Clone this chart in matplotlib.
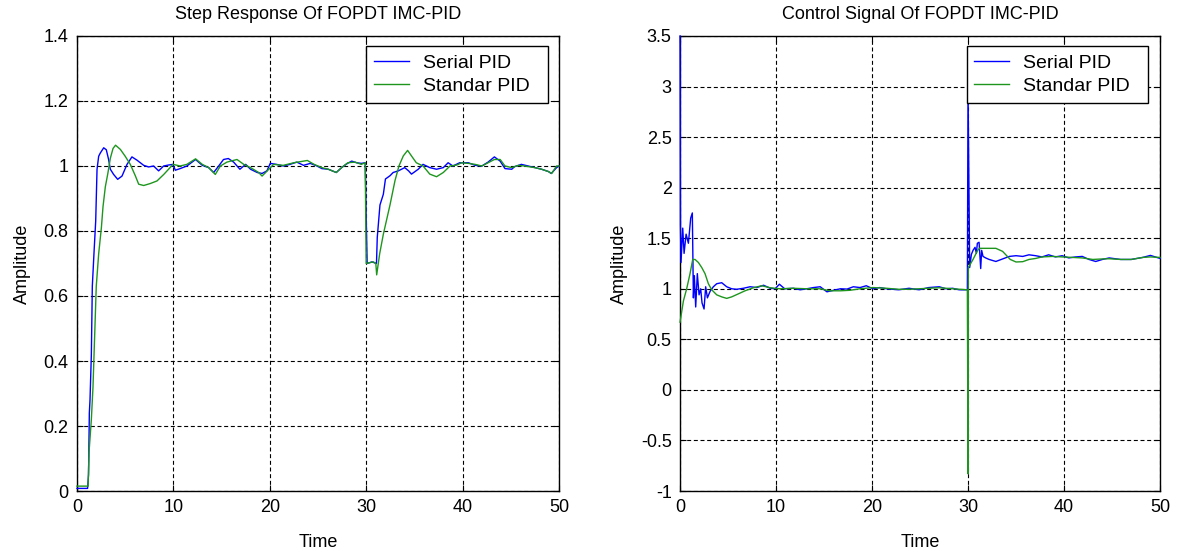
import numpy as np
import matplotlib.pyplot as plt
from matplotlib.ticker import FuncFormatter, MultipleLocator

plt.rcParams['font.family'] = ['Liberation Sans', 'DejaVu Sans']
plt.rcParams['font.size'] = 13

BLUE = '#0000ff'
GREEN = '#1e961e'

# Step response, serial PID
t_y_serial = [0.0, 1.1, 1.2, 1.28, 1.35, 1.49, 1.59, 1.76, 1.94, 2.08, 2.25, 2.42, 2.77,
              3.04, 3.28, 3.46, 3.8, 4.22, 4.67, 5.19, 5.7, 6.22, 6.92, 7.43, 7.95, 8.47,
              8.99, 9.5, 9.96, 10.2, 10.7, 11.4, 12.3, 13.0, 13.66, 14.18, 14.7, 15.2,
              15.7, 16.25, 16.9, 17.5, 18.0, 18.7, 19.2, 19.7, 20.05, 20.7, 21.4, 22.1,
              22.8, 23.5, 24.2, 24.9, 25.4, 26.07, 26.9, 27.45, 28.0, 28.5, 29.0, 29.5,
              29.9, 30.0, 30.1, 30.6, 31.07, 31.15, 31.43, 31.78, 32.0, 32.47, 32.8,
              33.33, 34.0, 34.4, 34.7, 35.4, 35.9, 36.6, 37.3, 38.0, 38.5, 39.0, 39.7,
              40.6, 41.3, 42.0, 42.65, 43.3, 43.9, 44.4, 45.1, 45.4, 46.1, 46.8, 47.5,
              48.2, 48.9, 49.2, 49.75, 50.0]
y_serial = [0.008, 0.008, 0.05, 0.24, 0.28, 0.42, 0.63, 0.73, 0.83, 0.99, 1.03, 1.04, 1.056,
            1.05, 1.02, 0.99, 0.974, 0.959, 0.969, 1.005, 1.028, 1.018, 1.002, 0.997, 1.0,
            0.985, 1.0, 1.003, 1.005, 0.987, 0.992, 1.0, 1.02, 1.002, 0.995, 0.98, 1.0,
            1.02, 1.023, 1.012, 0.99, 1.005, 0.99, 0.98, 0.977, 0.985, 1.008, 1.005, 1.0,
            1.005, 1.012, 1.002, 1.008, 1.0, 0.992, 0.99, 0.98, 0.995, 1.007, 1.015, 1.01,
            1.008, 1.01, 0.85, 0.70, 0.705, 0.70, 0.78, 0.88, 0.913, 0.96, 0.97, 0.98,
            0.985, 0.995, 0.985, 0.975, 0.99, 1.005, 0.995, 0.99, 0.995, 1.01, 1.0, 1.01,
            1.01, 1.002, 1.0, 1.012, 1.028, 1.015, 0.992, 0.99, 0.998, 1.005, 1.0, 0.995,
            0.99, 0.983, 0.977, 0.995, 1.0]

# Step response, standard PID
t_y_standard = [0.0, 1.15, 1.25, 1.49, 1.66, 1.83, 2.0, 2.25, 2.53, 2.7, 2.94, 3.2, 3.46,
                3.74, 4.0, 4.5, 5.0, 5.53, 6.05, 6.4, 6.92, 7.6, 8.3, 9.0, 9.5, 9.96, 10.7,
                11.4, 12.3, 13.0, 13.66, 14.35, 14.87, 15.56, 16.6, 17.3, 18.0, 18.85,
                19.2, 19.9, 20.4, 21.4, 22.5, 23.9, 24.6, 25.4, 26.07, 26.9, 27.45, 28.1,
                28.84, 29.5, 29.9, 30.0, 30.74, 31.0, 31.09, 31.4, 31.78, 32.47, 32.99,
                33.4, 33.85, 34.3, 34.7, 35.2, 35.9, 36.6, 37.3, 38.0, 38.7, 39.4, 39.9,
                40.6, 41.3, 42.0, 42.65, 43.3, 43.9, 44.4, 45.1, 45.8, 46.4, 47.5, 48.2,
                48.9, 49.25, 49.75, 50.0]
y_standard = [0.015, 0.015, 0.12, 0.22, 0.32, 0.475, 0.63, 0.73, 0.81, 0.875, 0.936, 0.977,
              1.024, 1.054, 1.064, 1.051, 1.03, 1.005, 0.97, 0.944, 0.94, 0.946, 0.954,
              0.974, 0.99, 1.005, 1.0, 1.005, 1.022, 1.005, 0.995, 0.974, 1.0, 1.012, 1.02,
              1.005, 0.995, 0.98, 0.969, 0.99, 1.005, 1.002, 1.01, 1.017, 1.005, 0.995,
              0.99, 0.98, 0.995, 1.01, 1.012, 1.005, 1.01, 0.70, 0.705, 0.70, 0.665, 0.73,
              0.79, 0.88, 0.955, 1.0, 1.031, 1.048, 1.031, 1.01, 1.0, 0.975, 0.967, 0.98,
              1.0, 1.003, 1.01, 1.008, 1.005, 1.0, 1.01, 1.02, 1.02, 1.0, 0.995, 1.002,
              1.0, 0.995, 0.99, 0.983, 0.977, 1.0, 1.0]

# Control signal, serial PID
t_u_serial = [0.0, 0.04, 0.1, 0.28, 0.42, 0.63, 0.87, 1.11, 1.28, 1.39, 1.49, 1.63, 1.8,
              1.98, 2.15, 2.29, 2.5, 2.67, 2.85, 3.13, 3.47, 3.82, 4.34, 4.86, 5.38, 5.9,
              6.6, 7.3, 8.0, 8.7, 9.4, 9.9, 10.35, 10.9, 11.8, 12.5, 13.2, 13.9, 14.6,
              15.3, 16.0, 16.7, 17.4, 18.05, 18.75, 19.4, 20.1, 20.8, 21.5, 22.8, 23.85,
              24.9, 25.9, 27.0, 27.7, 28.4, 29.06, 29.93, 30.0, 30.17, 30.35, 30.52,
              30.73, 30.87, 30.97, 31.15, 31.32, 31.42, 31.56, 31.84, 32.2, 32.9, 33.6,
              34.3, 35.0, 35.7, 36.35, 37.05, 37.7, 38.4, 39.1, 39.8, 40.5, 41.2, 41.9,
              42.6, 43.3, 44.0, 44.7, 45.9, 47.0, 48.2, 49.0, 49.5, 50.0]
u_serial = [3.5, 1.63, 1.26, 1.6, 1.35, 1.54, 1.45, 1.70, 1.75, 0.91, 1.13, 0.82, 1.15,
            0.94, 1.0, 0.86, 0.80, 1.02, 0.91, 0.975, 1.02, 1.05, 1.06, 1.02, 1.0, 0.995,
            1.005, 1.02, 1.012, 1.035, 1.005, 1.0, 1.045, 1.0, 1.005, 0.99, 1.0, 1.012,
            1.02, 0.97, 0.985, 1.0, 0.997, 1.02, 1.012, 1.03, 1.0, 1.012, 1.0, 0.99, 1.005,
            0.99, 1.012, 1.02, 1.0, 1.005, 0.99, 0.99, 3.0, 1.21, 1.34, 1.38, 1.41, 1.35,
            1.45, 1.46, 1.2, 1.38, 1.32, 1.305, 1.29, 1.27, 1.295, 1.32, 1.327, 1.32,
            1.336, 1.327, 1.315, 1.336, 1.315, 1.327, 1.305, 1.315, 1.32, 1.29, 1.27,
            1.29, 1.305, 1.29, 1.29, 1.31, 1.33, 1.315, 1.30]

# Control signal, standard PID
t_u_standard = [0.0, 0.35, 0.69, 1.04, 1.32, 1.56, 1.91, 2.26, 2.6, 2.95, 3.3, 3.82, 4.34,
                4.86, 5.38, 6.08, 6.77, 7.64, 8.5, 9.4, 10.4, 11.8, 13.2, 14.6, 15.6, 16.7,
                17.7, 18.75, 20.1, 21.5, 22.8, 23.85, 24.9, 25.9, 27.0, 28.4, 29.93, 30.0,
                30.03, 30.52, 31.0, 31.2, 32.9, 33.6, 34.4, 35.0, 35.7, 36.35, 37.05, 37.7,
                38.8, 39.8, 40.9, 41.9, 43.0, 44.0, 44.7, 45.9, 47.0, 48.2, 49.0, 50.0]
u_standard = [0.67, 0.88, 1.0, 1.15, 1.29, 1.29, 1.26, 1.21, 1.15, 1.05, 0.99, 0.94, 0.92,
              0.905, 0.92, 0.95, 0.98, 1.01, 1.03, 1.01, 1.0, 1.005, 1.0, 1.0, 0.98, 0.98,
              0.985, 1.0, 1.012, 1.005, 0.995, 0.995, 1.0, 1.005, 1.01, 1.0, 0.99, -0.83,
              1.21, 1.29, 1.38, 1.40, 1.40, 1.37, 1.29, 1.265, 1.268, 1.29, 1.30, 1.315,
              1.32, 1.315, 1.31, 1.305, 1.29, 1.295, 1.297, 1.29, 1.29, 1.31, 1.315, 1.31]


def style_axes(ax, title, ymin, ymax, ystep, leg_box):
    ax.set_xlim(0, 50)
    ax.set_ylim(ymin, ymax)
    ax.xaxis.set_major_locator(MultipleLocator(10))
    ax.yaxis.set_major_locator(MultipleLocator(ystep))
    ax.xaxis.set_major_formatter(FuncFormatter(lambda v, pos: '%g' % round(v, 6)))
    ax.yaxis.set_major_formatter(FuncFormatter(lambda v, pos: '%g' % round(v, 6)))
    ax.grid(True, color='black', linestyle=(0, (3.6, 2.4)), linewidth=0.8)
    ax.tick_params(direction='in', top=True, right=True, length=4, width=0.8,
                   labelsize=13, pad=6)
    for s in ax.spines.values():
        s.set_linewidth(1.0)
    ax.set_title(title, fontsize=13, pad=12)
    ax.set_xlabel('Time', fontsize=13, labelpad=13)
    ax.set_ylabel('Amplitude', fontsize=13, labelpad=9)
    # MATLAB-style legend box: fixed width, entries flush left
    leg = ax.legend(loc='upper left', bbox_to_anchor=leg_box, mode='expand',
                    borderaxespad=0, fancybox=False, framealpha=1, edgecolor='black',
                    fontsize=14, handlelength=1.8, handletextpad=0.7,
                    labelspacing=0.3, borderpad=0.4)
    leg.get_frame().set_linewidth(1.0)
    leg.set_zorder(5)


fig = plt.figure(figsize=(11.79, 5.52), dpi=100)
ax1 = fig.add_axes([0.0653, 0.1105, 0.4088, 0.8243])
ax2 = fig.add_axes([0.5768, 0.1105, 0.4071, 0.8243])

for ax, t1, v1, t2, v2 in [(ax1, t_y_serial, y_serial, t_y_standard, y_standard),
                           (ax2, t_u_serial, u_serial, t_u_standard, u_standard)]:
    ax.plot(t1, v1, color=BLUE, lw=1.0, label='Serial PID', zorder=3, clip_on=False)
    ax.plot(t2, v2, color=GREEN, lw=1.0, label='Standar PID', zorder=3, clip_on=False)

style_axes(ax1, 'Step Response Of FOPDT IMC-PID', 0, 1.4, 0.2,
           (0.6, 0.855, 0.377, 0.122))
style_axes(ax2, 'Control Signal Of FOPDT IMC-PID', -1, 3.5, 0.5,
           (0.597, 0.855, 0.378, 0.122))

fig.savefig('out.png', dpi=100)
